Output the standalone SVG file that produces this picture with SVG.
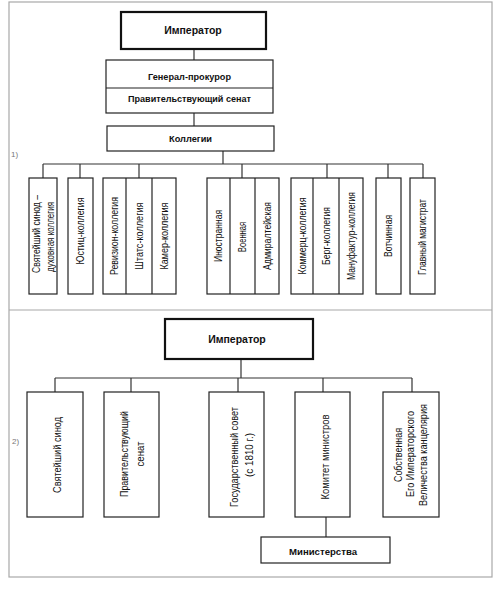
<svg xmlns="http://www.w3.org/2000/svg" width="500" height="589" viewBox="0 0 500 589">
<style>
.frame{fill:none;stroke:#a8a8a8;stroke-width:1.2}
.box{fill:#fff;stroke:#222;stroke-width:1.2}
.thick{fill:#fff;stroke:#111;stroke-width:2.2}
.ln{fill:none;stroke:#333;stroke-width:1.2}
.h{font-family:"Liberation Sans",Arial,sans-serif;font-weight:bold;fill:#111;text-anchor:middle;dominant-baseline:central}
.v{font-family:"Liberation Sans",Arial,sans-serif;font-size:10px;fill:#111;text-anchor:middle;dominant-baseline:central}
.v2{font-family:"Liberation Sans",Arial,sans-serif;font-size:11px;fill:#111;text-anchor:middle;dominant-baseline:central}
.num{font-family:"Liberation Sans",Arial,sans-serif;font-size:8px;fill:#777}
</style>
<rect x="0" y="0" width="500" height="589" fill="#fff"/>
<g id="frame">
<rect class="frame" x="9" y="2" width="483" height="575"/>
<line class="frame" x1="9" y1="310" x2="492" y2="310"/>
<text class="num" x="11" y="157">1)</text>
<text class="num" x="12" y="444">2)</text>
</g>
<g id="connectors">
<line class="ln" x1="194" y1="49" x2="194" y2="60"/>
<line class="ln" x1="194" y1="113" x2="194" y2="126"/>
<line class="ln" x1="223" y1="151" x2="223" y2="164"/>
<line class="ln" x1="43" y1="164" x2="423" y2="164"/>
<line class="ln" x1="43" y1="164" x2="43" y2="178"/>
<line class="ln" x1="80" y1="164" x2="80" y2="178"/>
<line class="ln" x1="139" y1="164" x2="139" y2="178"/>
<line class="ln" x1="242" y1="164" x2="242" y2="178"/>
<line class="ln" x1="327" y1="164" x2="327" y2="178"/>
<line class="ln" x1="388" y1="164" x2="388" y2="178"/>
<line class="ln" x1="423" y1="164" x2="423" y2="178"/>
<line class="ln" x1="241" y1="359" x2="241" y2="378"/>
<line class="ln" x1="55" y1="378" x2="412" y2="378"/>
<line class="ln" x1="55" y1="378" x2="55" y2="392"/>
<line class="ln" x1="131" y1="378" x2="131" y2="392"/>
<line class="ln" x1="238" y1="378" x2="238" y2="392"/>
<line class="ln" x1="323" y1="378" x2="323" y2="392"/>
<line class="ln" x1="412" y1="378" x2="412" y2="392"/>
<line class="ln" x1="326" y1="517" x2="326" y2="537"/>
</g>
<g id="emperor1">
<rect class="thick" x="121" y="12" width="145" height="37"/>
<text class="h" x="193" y="30" font-size="10.5">Император</text>
</g>
<g id="senate1">
<rect class="box" x="106" y="60" width="167" height="53"/>
<line class="box" x1="106" y1="88" x2="273" y2="88"/>
<text class="h" x="189.5" y="76" font-size="9.5" textLength="83" lengthAdjust="spacingAndGlyphs">Генерал-прокурор</text>
<text class="h" x="189.5" y="98" font-size="9.5" textLength="123" lengthAdjust="spacingAndGlyphs">Правительствующий сенат</text>
</g>
<g id="collegia">
<rect class="box" x="107" y="126" width="167" height="25"/>
<text class="h" x="190.5" y="138" font-size="9.5" textLength="43" lengthAdjust="spacingAndGlyphs">Коллегии</text>
</g>
<g id="synod-college">
<rect class="box" x="29" y="178" width="28" height="116"/>
<text class="v" transform="translate(36,234) rotate(-90)" textLength="78" lengthAdjust="spacingAndGlyphs">Святейший синод –</text>
<text class="v" transform="translate(50,237) rotate(-90)" textLength="70" lengthAdjust="spacingAndGlyphs">духовная коллегия</text>
</g>
<g id="justice">
<rect class="box" x="68" y="178" width="25" height="116"/>
<text class="v" transform="translate(80.5,231) rotate(-90)" textLength="67" lengthAdjust="spacingAndGlyphs">Юстиц-коллегия</text>
</g>
<g id="group-finance">
<rect class="box" x="103" y="178" width="73" height="116"/>
<line class="box" x1="126" y1="178" x2="126" y2="294"/>
<line class="box" x1="152" y1="178" x2="152" y2="294"/>
<text class="v" transform="translate(114.5,236) rotate(-90)" textLength="78" lengthAdjust="spacingAndGlyphs">Ревизион-коллегия</text>
<text class="v" transform="translate(139,236) rotate(-90)" textLength="67" lengthAdjust="spacingAndGlyphs">Штатс-коллегия</text>
<text class="v" transform="translate(164,236) rotate(-90)" textLength="67" lengthAdjust="spacingAndGlyphs">Камер-коллегия</text>
</g>
<g id="group-military">
<rect class="box" x="207" y="178" width="72" height="116"/>
<line class="box" x1="230" y1="178" x2="230" y2="294"/>
<line class="box" x1="255" y1="178" x2="255" y2="294"/>
<text class="v" transform="translate(218.5,236) rotate(-90)" textLength="52" lengthAdjust="spacingAndGlyphs">Иностранная</text>
<text class="v" transform="translate(242.5,237) rotate(-90)" textLength="30" lengthAdjust="spacingAndGlyphs">Военная</text>
<text class="v" transform="translate(267,236) rotate(-90)" textLength="68" lengthAdjust="spacingAndGlyphs">Адмиралтейская</text>
</g>
<g id="group-trade">
<rect class="box" x="291" y="178" width="72" height="116"/>
<line class="box" x1="313" y1="178" x2="313" y2="294"/>
<line class="box" x1="339" y1="178" x2="339" y2="294"/>
<text class="v" transform="translate(302,236) rotate(-90)" textLength="77" lengthAdjust="spacingAndGlyphs">Коммерц-коллегия</text>
<text class="v" transform="translate(326,236) rotate(-90)" textLength="58" lengthAdjust="spacingAndGlyphs">Берг-коллегия</text>
<text class="v" transform="translate(351,236) rotate(-90)" textLength="88" lengthAdjust="spacingAndGlyphs">Мануфактур-коллегия</text>
</g>
<g id="votchina">
<rect class="box" x="376" y="178" width="25" height="116"/>
<text class="v" transform="translate(388.5,236) rotate(-90)" textLength="42" lengthAdjust="spacingAndGlyphs">Вотчинная</text>
</g>
<g id="magistrat">
<rect class="box" x="410" y="178" width="25" height="116"/>
<text class="v" transform="translate(422.5,237) rotate(-90)" textLength="76" lengthAdjust="spacingAndGlyphs">Главный магистрат</text>
</g>
<g id="emperor2">
<rect class="thick" x="165" y="319" width="148" height="40"/>
<text class="h" x="237" y="339" font-size="10.5">Император</text>
</g>
<g id="synod">
<rect class="box" x="27" y="392" width="56" height="125"/>
<text class="v2" transform="translate(57,455) rotate(-90)" textLength="76" lengthAdjust="spacingAndGlyphs">Святейший синод</text>
</g>
<g id="senate2">
<rect class="box" x="104" y="392" width="55" height="125"/>
<text class="v2" transform="translate(124,454) rotate(-90)" textLength="86" lengthAdjust="spacingAndGlyphs">Правительствующий</text>
<text class="v2" transform="translate(140,454) rotate(-90)" textLength="25" lengthAdjust="spacingAndGlyphs">сенат</text>
</g>
<g id="state-council">
<rect class="box" x="209" y="392" width="55" height="125"/>
<text class="v2" transform="translate(234,457) rotate(-90)" textLength="100" lengthAdjust="spacingAndGlyphs">Государственный совет</text>
<text class="v2" transform="translate(249,455) rotate(-90)" textLength="44" lengthAdjust="spacingAndGlyphs">(с 1810 г.)</text>
</g>
<g id="committee">
<rect class="box" x="295" y="392" width="55" height="125"/>
<text class="v2" transform="translate(325,457) rotate(-90)" textLength="85" lengthAdjust="spacingAndGlyphs">Комитет министров</text>
</g>
<g id="chancellery">
<rect class="box" x="383" y="392" width="56" height="125"/>
<text class="v2" transform="translate(398,455) rotate(-90)" textLength="54" lengthAdjust="spacingAndGlyphs">Собственная</text>
<text class="v2" transform="translate(410,454) rotate(-90)" textLength="86" lengthAdjust="spacingAndGlyphs">Его Императорского</text>
<text class="v2" transform="translate(423,455) rotate(-90)" textLength="102" lengthAdjust="spacingAndGlyphs">Величества канцелярия</text>
</g>
<g id="ministries">
<rect class="box" x="261" y="537" width="129" height="26"/>
<text class="h" x="323" y="551" font-size="9.5" textLength="68" lengthAdjust="spacingAndGlyphs">Министерства</text>
</g>
</svg>
